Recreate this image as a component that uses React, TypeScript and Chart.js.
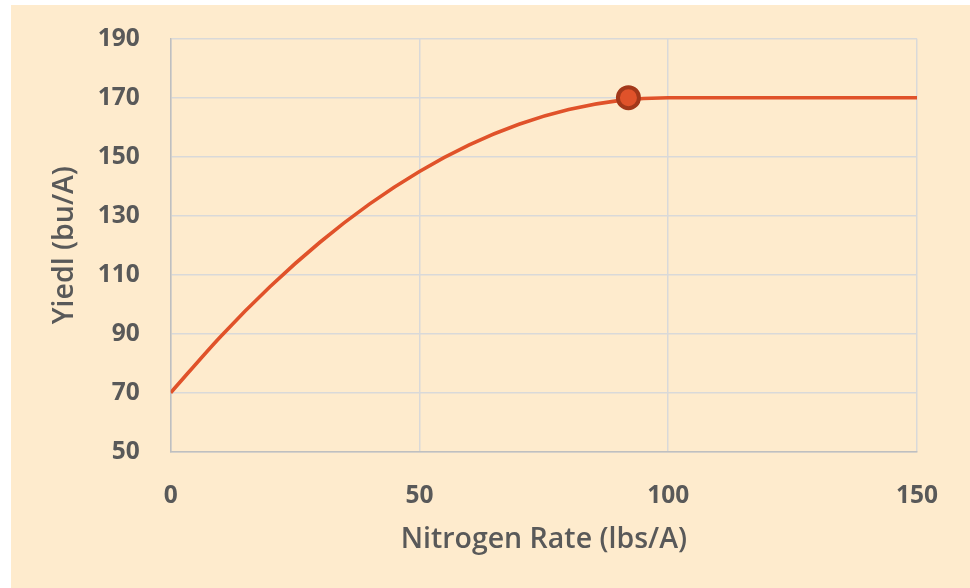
import React, { useEffect, useRef } from "react";
import { Chart, registerables } from "chart.js";

Chart.register(...registerables);

// Nitrogen rate (lbs/A) sampled along the response curve
const curveRates = [0, 10, 20, 30, 40, 50, 60, 70, 80, 90, 100, 110, 120, 130, 140, 150];
// Yield (bu/A)
const curveYields = [70, 89, 106, 121, 134, 145, 154, 161, 166, 169, 170, 170, 170, 170, 170, 170];
// Highlighted optimum point
const optimumRate = [92];
const optimumYield = [170];

const xTitle = "Nitrogen Rate (lbs/A)";
const yTitle = "Yiedl (bu/A)";

const FONT = "'Open Sans', 'Noto Sans', sans-serif";
const TEXT = "#595959";

export default function App() {
  const ref = useRef<HTMLCanvasElement | null>(null);

  useEffect(() => {
    if (!ref.current) return;
    const chart = new Chart(ref.current, {
      type: "line",
      data: {
        datasets: [
          {
            label: "Optimum",
            data: optimumRate.map((x, i) => ({ x, y: optimumYield[i] })),
            showLine: false,
            pointRadius: 10.5,
            pointBackgroundColor: "#E0522A",
            pointBorderColor: "#A3381A",
            pointBorderWidth: 4,
            order: 0,
          },
          {
            label: "Response",
            data: curveRates.map((x, i) => ({ x, y: curveYields[i] })),
            borderColor: "#E0522A",
            borderWidth: 3.6,
            pointRadius: 0,
            cubicInterpolationMode: "monotone",
            fill: false,
            order: 1,
          },
        ],
      },
      options: {
        animation: false,
        responsive: false,
        maintainAspectRatio: false,
        layout: { padding: { top: 33.7, right: 53, bottom: 0, left: 0 } },
        plugins: { legend: { display: false }, tooltip: { enabled: false } },
        scales: {
          x: {
            type: "linear",
            min: 0,
            max: 150,
            afterFit: (s: any) => {
              s.height = 136.3;
            },
            ticks: {
              stepSize: 50,
              padding: 29.5,
              color: TEXT,
              font: { family: FONT, size: 24.5, weight: "bold" },
            },
            grid: { color: "#D9D9D9", lineWidth: 1.5, drawTicks: false },
            border: { color: "#BFBFBF", width: 1.5 },
            title: {
              display: true,
              text: xTitle,
              color: TEXT,
              padding: { top: 0, bottom: 31 },
              font: { family: FONT, size: 28.5, weight: "600" },
            },
          },
          y: {
            type: "linear",
            min: 50,
            max: 190,
            afterFit: (s: any) => {
              s.width = 159.7;
              s.paddingTop = 10;
              s.paddingBottom = 10;
            },
            ticks: {
              stepSize: 20,
              padding: 31,
              color: TEXT,
              font: { family: FONT, size: 24.5, weight: "bold" },
            },
            grid: { color: "#D9D9D9", lineWidth: 1.5, drawTicks: false },
            border: { color: "#BFBFBF", width: 1.5 },
            title: {
              display: true,
              text: yTitle,
              color: TEXT,
              padding: { top: 37, bottom: 0 },
              font: { family: FONT, size: 28.5, weight: "600" },
            },
          },
        },
      },
    });
    return () => chart.destroy();
  }, []);

  return (
    <div
      style={{
        position: "absolute",
        left: 11,
        top: 5,
        width: 959,
        height: 583,
        background: "#FEEBCD",
      }}
    >
      <canvas ref={ref} width={959} height={583} style={{ display: "block" }} />
    </div>
  );
}
